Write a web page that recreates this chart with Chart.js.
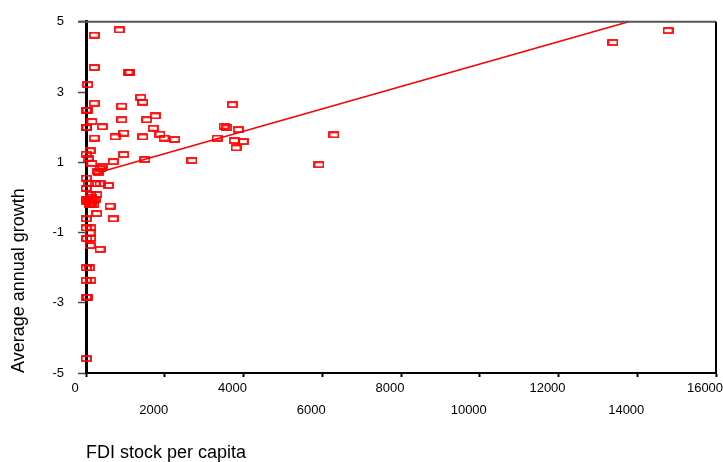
<!DOCTYPE html>
<html>
<head>
<meta charset="utf-8">
<script src="https://cdn.jsdelivr.net/npm/chart.js@4.4.0/dist/chart.umd.min.js"></script>
<style>
  html, body { margin: 0; padding: 0; background: #fff; }
  #wrap { width: 723px; height: 462px; }
</style>
</head>
<body>
<div id="wrap"><canvas id="fdiChart" width="723" height="462"></canvas></div>
<script>
// FDI stock per capita (x) and average annual growth (y)
const fdiStock = [
  211, 846, 211, 1067, 1117, 43, 211, 33, 10, 907,
  1389, 1440, 152, 907, 1542, 1760, 5, 25, 414, 1709,
  211, 737, 957, 1440, 1879, 1981, 2253, 3327, 3505, 3573,
  3868, 3716, 3766, 3995, 3810, 2692, 6298, 5917, 13384, 14781,
  102, 5, 58, 957, 1498, 145, 693, 414, 312, 356,
  290, 5, 58, 229, 356, 566, 5, 102, 272, 5,
  145, 610, 272, 693, 5, 5, 119, 102, 119, 20,
  102, 356, 5, 90, 5, 119, 5, 40, 5,
  60, 120, 180, 240, 150, 90, 200, 20
];
const growth = [
  4.62, 4.77, 3.70, 3.56, 3.56, 3.21, 2.68, 2.48, 2.48, 2.60,
  2.85, 2.71, 2.16, 2.21, 2.21, 2.32, 1.99, 1.99, 2.01, 1.97,
  1.69, 1.72, 1.83, 1.72, 1.80, 1.69, 1.65, 1.69, 2.03, 1.98,
  1.93, 2.64, 1.62, 1.59, 1.41, 1.05, 1.78, 0.93, 4.41, 4.75,
  1.33, 1.23, 1.12, 1.22, 1.08, 0.97, 1.02, 0.88, 0.71, 0.81,
  0.75, 0.55, 0.40, 0.39, 0.39, 0.34, 0.26, 0.08, 0.08, -0.11,
  -0.21, -0.25, -0.46, -0.61, -0.61, -0.87, -0.87, -1.01, -1.17, -1.17,
  -1.37, -1.48, -2.01, -2.01, -2.36, -2.36, -2.84, -2.84, -4.59,
  -0.05, -0.15, -0.10, -0.05, 0.00, -0.20, -0.20, -0.05
];

// fitted line end points
const trendX = [317, 13780];
const trendY = [0.71, 5.0];

const xTickLabels = ['0', '2000', '4000', '6000', '8000', '10000', '12000', '14000', '16000'];
const yTickLabels = ['-5', '-3', '-1', '1', '3', '5'];

const RED = '#ff0000';

// hollow red rectangle marker
function makeBox() {
  const c = document.createElement('canvas');
  c.width = 11;
  c.height = 7;
  const g = c.getContext('2d');
  g.strokeStyle = RED;
  g.lineWidth = 1.8;
  g.strokeRect(1, 1, 9, 5);
  return c;
}
const box = makeBox();

// top and right frame lines
const frame = {
  id: 'frame',
  afterDraw(chart) {
    const { ctx, chartArea: a } = chart;
    ctx.save();
    ctx.lineWidth = 2;
    ctx.strokeStyle = '#555';
    ctx.beginPath();
    ctx.moveTo(78, a.top);
    ctx.lineTo(a.right, a.top);
    ctx.stroke();
    ctx.strokeStyle = '#000';
    ctx.beginPath();
    ctx.moveTo(a.right, a.top);
    ctx.lineTo(a.right, a.bottom + 1);
    ctx.stroke();
    ctx.restore();
  }
};

const points = fdiStock.map((x, i) => ({ x: x, y: growth[i] }));
const trend = trendX.map((x, i) => ({ x: x, y: trendY[i] }));

new Chart(document.getElementById('fdiChart'), {
  type: 'scatter',
  data: {
    datasets: [
      {
        label: 'Countries',
        data: points,
        pointStyle: box,
        pointRadius: 5,
        pointHoverRadius: 5,
        borderColor: RED,
        backgroundColor: 'rgba(0,0,0,0)',
        clip: false
      },
      {
        label: 'Fit',
        type: 'line',
        data: trend,
        borderColor: RED,
        borderWidth: 1.5,
        pointRadius: 0,
        fill: false
      }
    ]
  },
  options: {
    responsive: false,
    animation: false,
    devicePixelRatio: 1,
    layout: { padding: { left: 0, right: 7, top: 19, bottom: 0 } },
    plugins: {
      legend: { display: false },
      tooltip: { enabled: false }
    },
    scales: {
      x: {
        type: 'linear',
        min: 0,
        max: 16000,
        border: { display: true, color: '#000', width: 2 },
        grid: { drawOnChartArea: false, tickLength: 4, tickWidth: 2, color: '#000' },
        ticks: {
          stepSize: 2000,
          padding: 0,
          labelOffset: -11,
          maxRotation: 0,
          autoSkip: false,
          color: '#000',
          font: { family: 'Arial, "Liberation Sans"', size: 13, lineHeight: 1.7 },
          callback: (v, i) => i % 2 === 0 ? [xTickLabels[i]] : ['', xTickLabels[i]]
        },
        title: {
          display: true,
          text: 'FDI stock per capita',
          align: 'start',
          color: '#000',
          padding: { top: 0, bottom: 0 },
          font: { family: 'Arial, "Liberation Sans"', size: 18, lineHeight: 1 }
        },
        afterFit: (s) => { s.height = 89; s.paddingLeft = 0; s.paddingRight = 0; }
      },
      y: {
        min: -5,
        max: 5,
        border: { display: true, color: '#000', width: 3 },
        grid: { drawOnChartArea: false, tickLength: 8, tickWidth: 1.5, color: '#444' },
        ticks: {
          stepSize: 2,
          padding: 14,
          color: '#000',
          font: { family: 'Arial, "Liberation Sans"', size: 13 },
          callback: (v, i) => yTickLabels[i]
        },
        title: {
          display: true,
          text: 'Average annual growth',
          align: 'start',
          color: '#000',
          padding: { top: 10, bottom: 0 },
          font: { family: 'Arial, "Liberation Sans"', size: 18, lineHeight: 1 }
        },
        afterFit: (s) => { s.width = 86; }
      }
    }
  },
  plugins: [frame]
});
</script>
</body>
</html>
